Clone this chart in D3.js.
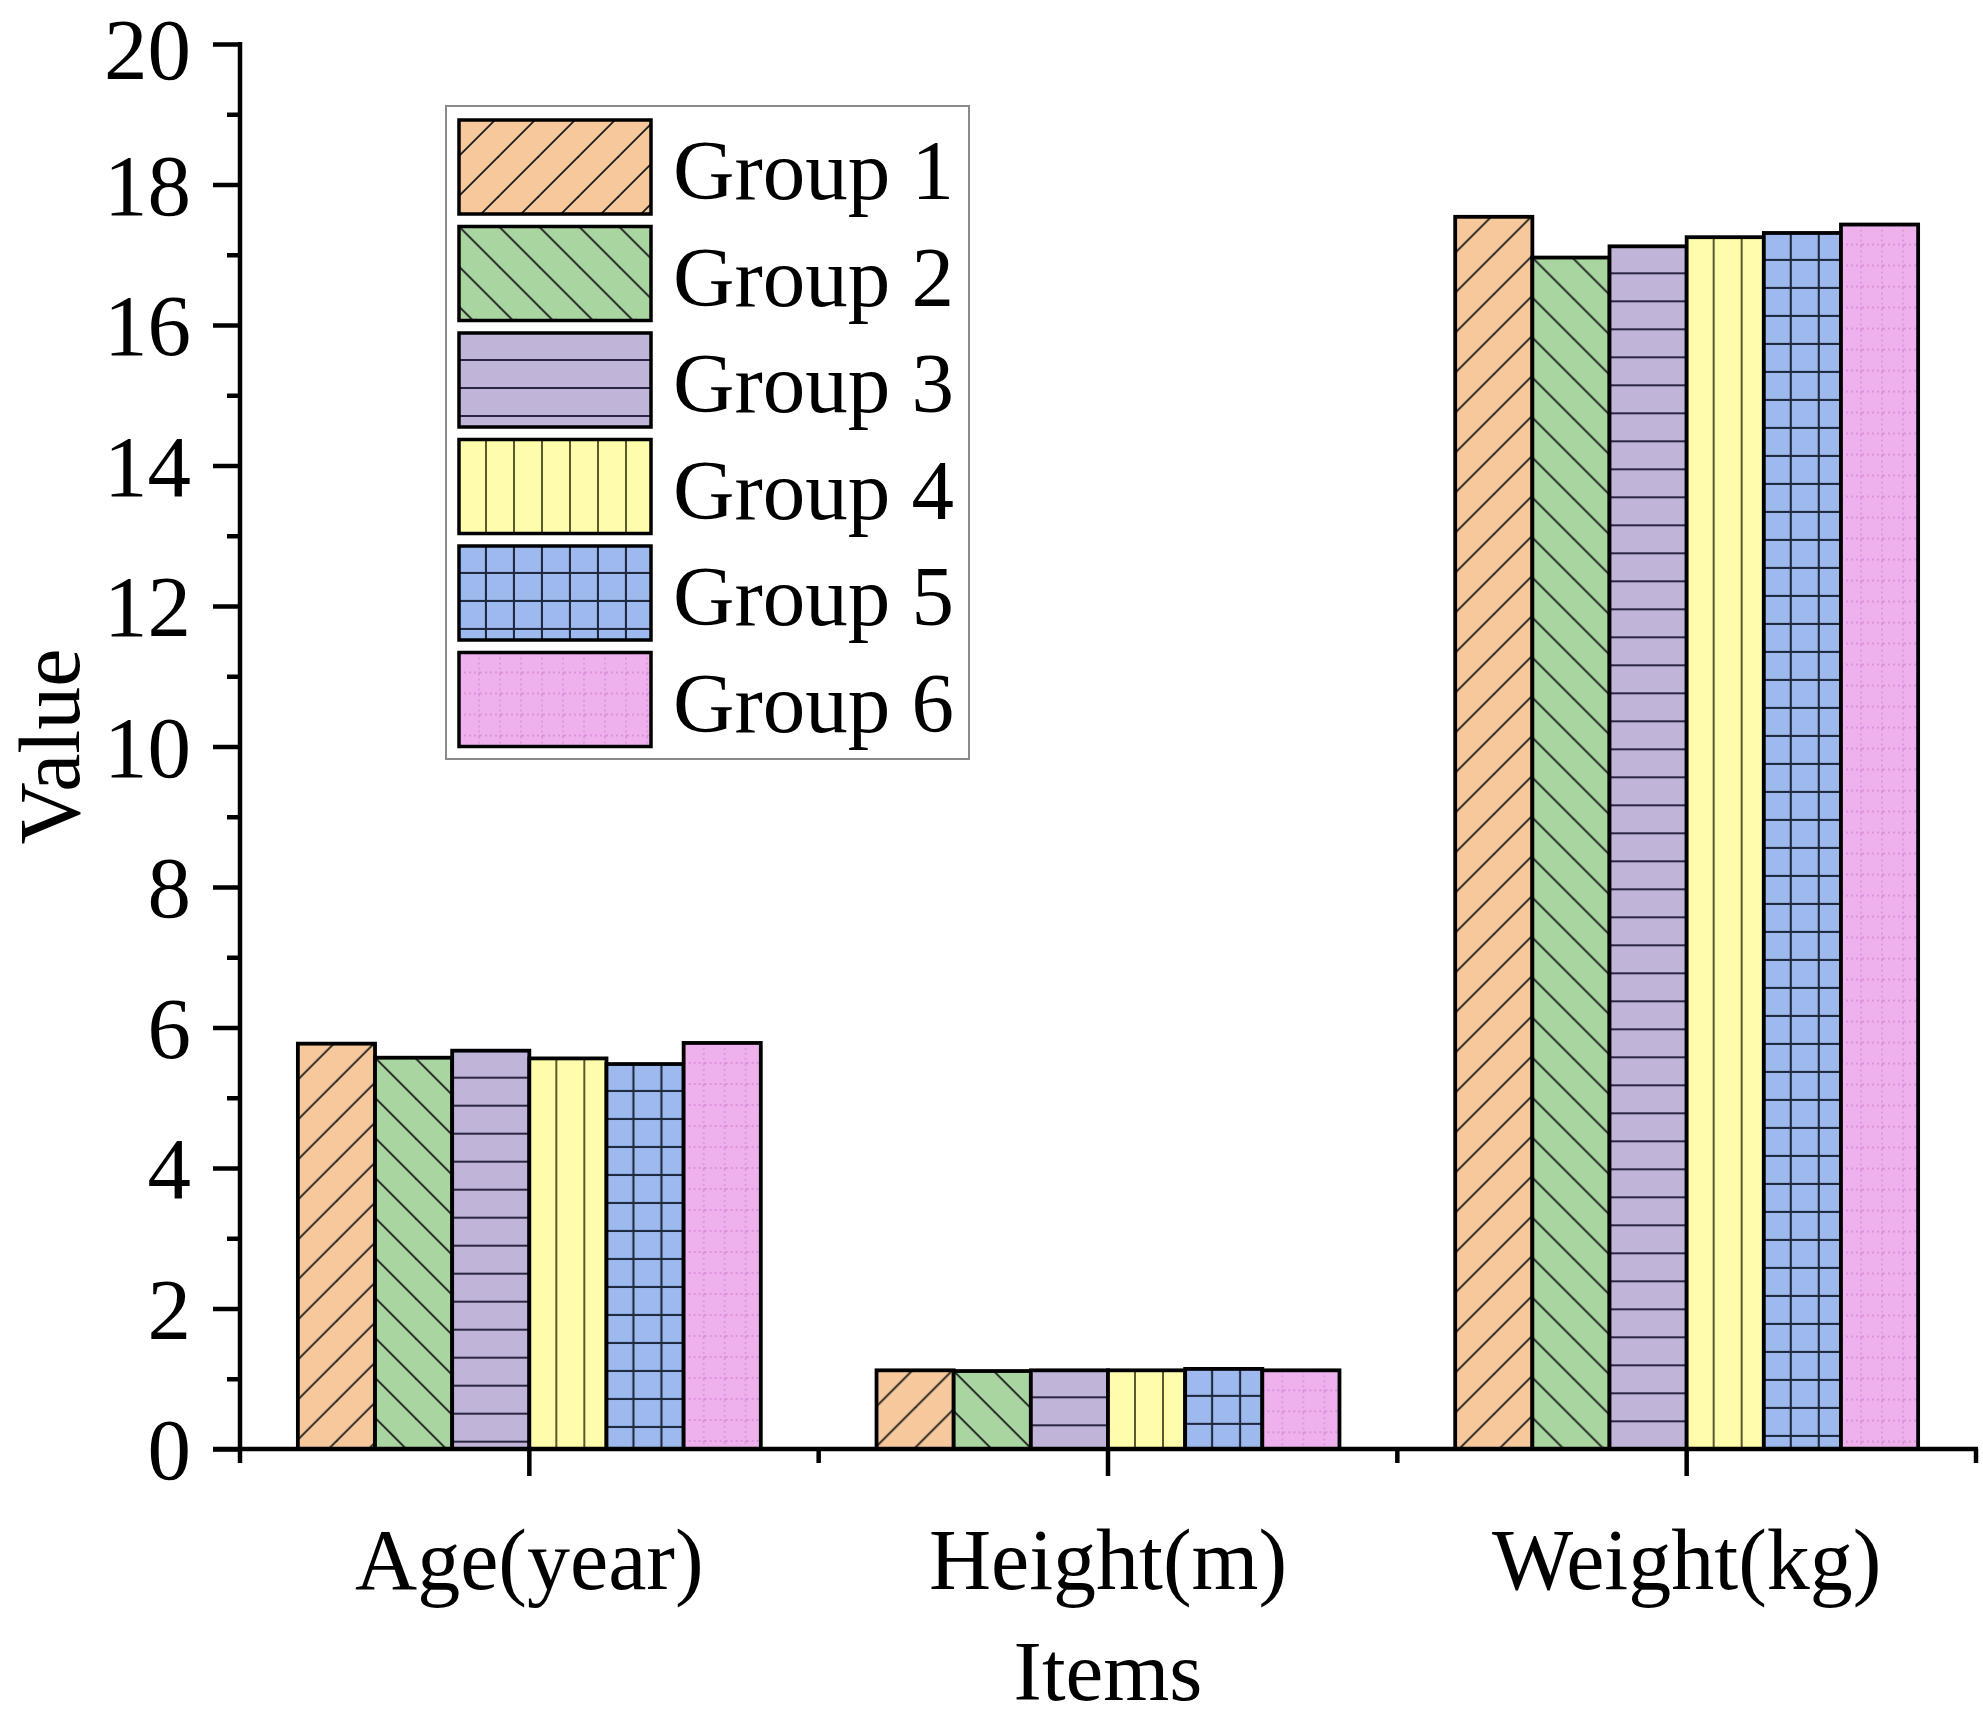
<!DOCTYPE html>
<html>
<head>
<meta charset="utf-8">
<script src="https://cdn.jsdelivr.net/npm/d3@7"></script>
<style>
  html, body { margin: 0; padding: 0; background: #fff; }
  svg { display: block; }
  text { font-family: "Liberation Serif", "Times New Roman", serif; fill: #000; }
</style>
</head>
<body>
<script>
// ---- data ----
const categories = ["Age(year)", "Height(m)", "Weight(kg)"];
const groups = ["Group 1", "Group 2", "Group 3", "Group 4", "Group 5", "Group 6"];
const group1 = [5.77, 1.12, 17.54];
const group2 = [5.57, 1.11, 16.96];
const group3 = [5.67, 1.12, 17.12];
const group4 = [5.56, 1.12, 17.25];
const group5 = [5.48, 1.14, 17.31];
const group6 = [5.78, 1.12, 17.43];
const yTicks = [0, 2, 4, 6, 8, 10, 12, 14, 16, 18, 20];
const yMinorTicks = [1, 3, 5, 7, 9, 11, 13, 15, 17, 19];
const fills = ["#F6C89C", "#A9D5A1", "#C0B4D8", "#FFFCAB", "#9DB9EE", "#EEB1EE"];
const hatches = ["diagUp", "diagDown", "horiz", "vert", "grid", "dots"];
const seriesValues = [group1, group2, group3, group4, group5, group6];

const W = 1983, H = 1722;
const margin = { left: 240, right: 1976, top: 44, bottom: 1449 };

const svg = d3.select("body").append("svg").attr("width", W).attr("height", H);
const defs = svg.append("defs");

const x = d3.scaleBand().domain(categories).range([margin.left, margin.right])
  .paddingInner(0.2).paddingOuter(0.1);
const xg = d3.scaleBand().domain(groups).range([0, x.bandwidth()]).padding(0);
const y = d3.scaleLinear().domain([0, 20]).range([margin.bottom, margin.top]);

// pattern factory, anchored at (px,py)
function makePattern(id, type, fill, px, py) {
  let size = 28;
  if (type === "diagUp" || type === "diagDown") size = 40;
  if (type === "dots") size = 21;
  const p = defs.append("pattern").attr("id", id)
    .attr("patternUnits", "userSpaceOnUse")
    .attr("x", px).attr("y", py).attr("width", size).attr("height", size);
  p.append("rect").attr("width", size).attr("height", size).attr("fill", fill);
  const line = (x1, y1, x2, y2, opts = {}) => p.append("line")
    .attr("x1", x1).attr("y1", y1).attr("x2", x2).attr("y2", y2)
    .attr("stroke", opts.color || "#1a1a1a").attr("stroke-width", opts.w || 1.8)
    .attr("stroke-dasharray", opts.dash || null).attr("opacity", opts.op || 1);
  if (type === "diagUp") {
    line(-2, 38, 38, -2);
    line(34, 42, 42, 34);
  } else if (type === "diagDown") {
    line(-2, -2, 42, 42);
    line(38, -2, 42, 2);
    line(-2, 38, 2, 42);
  } else if (type === "horiz") {
    line(-1, 27, 29, 27, { color: "#2a2540", w: 2 });
  } else if (type === "vert") {
    line(27, -1, 27, 29, { color: "#5a5a30", w: 2 });
  } else if (type === "grid") {
    line(-1, 27, 29, 27, { color: "#1f2a40", w: 2.2 });
    line(27, -1, 27, 29, { color: "#1f2a40", w: 2.2 });
  } else if (type === "dots") {
    line(0, 20, 21, 20, { color: "#c470c4", w: 1.3, dash: "2,3", op: 0.6 });
    line(20, 0, 20, 21, { color: "#c470c4", w: 1.3, dash: "2,3", op: 0.6 });
  }
}

// ---- bars ----
const barData = [];
categories.forEach((c, ci) => {
  groups.forEach((g, gi) => {
    barData.push({ c, g, gi, ci, v: seriesValues[gi][ci] });
  });
});

barData.forEach(d => {
  d.x = x(d.c) + xg(d.g);
  d.y = y(d.v);
  d.w = xg.bandwidth();
  d.h = y(0) - y(d.v);
  d.id = `pat-${d.ci}-${d.gi}`;
  makePattern(d.id, hatches[d.gi], fills[d.gi], d.x, d.y);
});

svg.append("g").selectAll("rect").data(barData).join("rect")
  .attr("x", d => d.x).attr("y", d => d.y)
  .attr("width", d => d.w).attr("height", d => d.h)
  .attr("fill", d => `url(#${d.id})`)
  .attr("stroke", "#000").attr("stroke-width", 3.8);

// ---- axes ----
const axisW = 4.5;
// Y axis
const yAxis = svg.append("g").attr("transform", `translate(${margin.left},0)`);
yAxis.call(d3.axisLeft(y).tickValues(yTicks).tickSize(27).tickPadding(22).tickFormat(d3.format("d")));
yAxis.select(".domain").remove();
yAxis.selectAll(".tick line").attr("stroke", "#000").attr("stroke-width", axisW);
yAxis.selectAll(".tick text").attr("font-size", 87).attr("font-family", "Liberation Serif")
  .attr("dy", d => d === 20 ? "0.40em" : "0.34em");
const yMinor = svg.append("g").attr("transform", `translate(${margin.left},0)`);
yMinor.call(d3.axisLeft(y).tickValues(yMinorTicks).tickSize(13).tickFormat(""));
yMinor.select(".domain").remove();
yMinor.selectAll(".tick line").attr("stroke", "#000").attr("stroke-width", axisW);
svg.append("line").attr("x1", margin.left).attr("x2", margin.left)
  .attr("y1", y(0) + 2).attr("y2", y(20) - 2)
  .attr("stroke", "#000").attr("stroke-width", axisW);

// X axis
const xAxis = svg.append("g").attr("transform", `translate(0,${y(0)})`);
xAxis.call(d3.axisBottom(x).tickSize(27).tickPadding(52));
xAxis.select(".domain").remove();
xAxis.selectAll(".tick line").attr("stroke", "#000").attr("stroke-width", axisW);
xAxis.selectAll(".tick text").attr("font-size", 86).attr("font-family", "Liberation Serif").attr("dy", "0.71em");
const boundaries = categories.map(c => x(c) - x.step() * x.paddingInner() / 2)
  .concat([margin.right]);
boundaries[0] = margin.left;
svg.append("g").selectAll("line").data(boundaries).join("line")
  .attr("x1", d => d).attr("x2", d => d)
  .attr("y1", y(0)).attr("y2", y(0) + 14)
  .attr("stroke", "#000").attr("stroke-width", axisW);
svg.append("line").attr("x1", margin.left - 27).attr("x2", margin.right + 2)
  .attr("y1", y(0)).attr("y2", y(0))
  .attr("stroke", "#000").attr("stroke-width", axisW);

// axis titles
svg.append("text").attr("transform", `translate(79,${(margin.top + margin.bottom) / 2}) rotate(-90)`)
  .attr("text-anchor", "middle").attr("font-size", 86).text("Value");
svg.append("text").attr("x", (margin.left + margin.right) / 2).attr("y", 1700)
  .attr("text-anchor", "middle").attr("font-size", 85).text("Items");

// ---- legend ----
const legend = svg.append("g");
legend.append("rect").attr("x", 446).attr("y", 106).attr("width", 523).attr("height", 653)
  .attr("fill", "#fff").attr("stroke", "#8a8a8a").attr("stroke-width", 2);
const legY = d3.scaleLinear().domain([0, 1]).range([120, 226.5]);
groups.forEach((g, gi) => {
  const sx = 459, sy = legY(gi);
  makePattern(`leg-${gi}`, hatches[gi], fills[gi], sx, sy);
});
const items = legend.selectAll("g.item").data(groups).join("g").attr("class", "item");
items.append("rect").attr("x", 459).attr("y", (d, i) => legY(i))
  .attr("width", 192).attr("height", 94)
  .attr("fill", (d, i) => `url(#leg-${i})`)
  .attr("stroke", "#000").attr("stroke-width", 3.5);
items.append("text").attr("x", 673).attr("y", (d, i) => legY(i) + 79)
  .attr("font-size", 85).text(d => d);
</script>
</body>
</html>
